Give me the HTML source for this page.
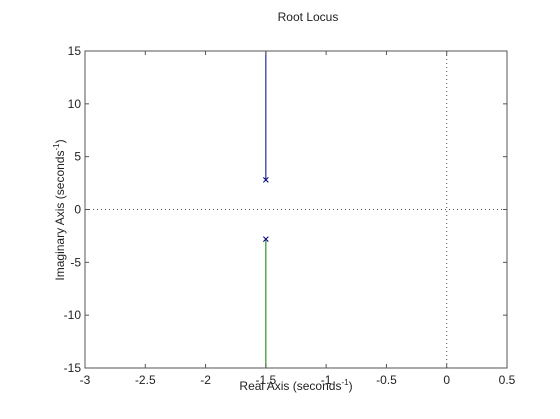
<!DOCTYPE html>
<html><head><style>
body{margin:0;background:#fff;}
svg text{font-family:"Liberation Sans",sans-serif;fill:#222;}
</style></head><body>
<svg id="c" width="560" height="414" xmlns="http://www.w3.org/2000/svg">
<rect width="560" height="414" fill="#fff"/>
<text x="308" y="21" font-size="12" text-anchor="middle">Root Locus</text>
<text x="296" y="390" font-size="12" text-anchor="middle">Real Axis (seconds<tspan dy="-5" font-size="8">-1</tspan><tspan dy="5">)</tspan></text>
<text transform="translate(64,210) rotate(-90)" font-size="12" text-anchor="middle">Imaginary Axis (seconds<tspan dy="-5" font-size="8">-1</tspan><tspan dy="5">)</tspan></text>
<g id="g"></g>
</svg>
<script>
const xTicks=[-3,-2.5,-2,-1.5,-1,-0.5,0,0.5];
const yTicks=[-15,-10,-5,0,5,10,15];
const poleRe=[-1.5,-1.5];
const poleIm=[2.8,-2.8];
const branch1Re=[-1.5,-1.5];
const branch1Im=[2.8,15];
const branch2Re=[-1.5,-1.5];
const branch2Im=[-2.8,-15];
const L=85,R=507,T=51,B=368;
const xs=v=>L+(v+3)/3.5*(R-L);
const ys=v=>T+(15-v)/30*(B-T);
const g=document.getElementById('g');
const NS='http://www.w3.org/2000/svg';
function mk(t,a){const e=document.createElementNS(NS,t);for(const k in a)e.setAttribute(k,a[k]);g.appendChild(e);return e;}
// dotted axes
let e=mk('line',{x1:L,x2:R,y1:ys(0),y2:ys(0),stroke:'#555','stroke-dasharray':'1,3'});


e=mk('line',{x1:xs(0),x2:xs(0),y1:T,y2:B,stroke:'#555','stroke-dasharray':'1,3'});


// branches
e=mk('polyline',{points:branch1Re.map((r,i)=>xs(r)+','+ys(branch1Im[i])).join(' '),stroke:'#00007f',fill:'none'});


e=mk('polyline',{points:branch2Re.map((r,i)=>xs(r)+','+ys(branch2Im[i])).join(' '),stroke:'#007f00',fill:'none'});


// poles
poleRe.forEach((r,i)=>{const x=xs(r),y=ys(poleIm[i]);
const p=mk('path',{d:`M${x-2.5},${y-2.5}L${x+2.5},${y+2.5}M${x-2.5},${y+2.5}L${x+2.5},${y-2.5}`,stroke:'#00007f','stroke-width':1});

});
// frame
e=mk('rect',{x:L,y:T,width:R-L,height:B-T,fill:'none',stroke:'#555'});


xTicks.forEach(v=>{const x=xs(v);
mk('line',{x1:x,x2:x,y1:B,y2:B-4,stroke:'#555'});
mk('line',{x1:x,x2:x,y1:T,y2:T+4,stroke:'#555'});
const t=mk('text',{x:x,y:384,'font-size':12,'text-anchor':'middle',fill:'#333'});t.textContent=v;

});
yTicks.forEach(v=>{const y=ys(v);
mk('line',{x1:L,x2:L+4,y1:y,y2:y,stroke:'#555'});
mk('line',{x1:R,x2:R-4,y1:y,y2:y,stroke:'#555'});
const t=mk('text',{x:81,y:y+4,'font-size':12,'text-anchor':'end',fill:'#333'});t.textContent=v;

});
</script>
</body></html>
